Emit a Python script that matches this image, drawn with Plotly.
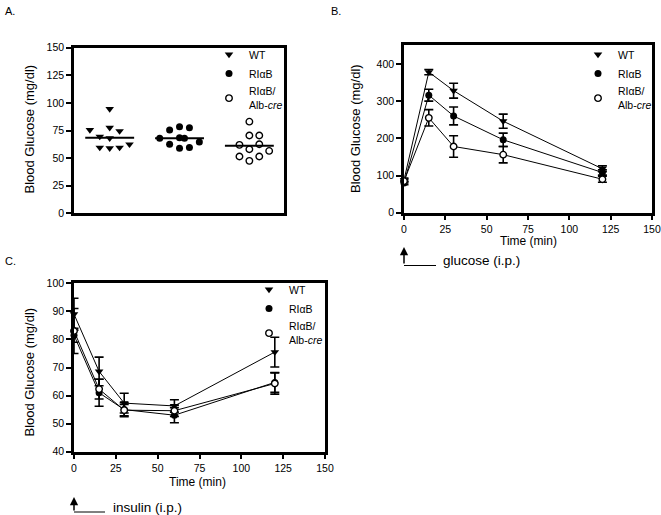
import plotly.graph_objects as go

W, H = 661, 515
FONT = "Liberation Sans, Arial, Helvetica, sans-serif"

def fx(p):
    return p / W

def fy(p):
    return 1 - p / H

# ---------------- Panel A data (fasting blood glucose, dot plot) ----------------
group_pos = [1, 2, 3]
a_wt_jitter = [-2, 0, 0, 1, -1, 0, 2, -1, 0, 1]
a_wt = [75.5, 94.5, 77.5, 74.5, 69.5, 68, 62.5, 59.5, 59, 59.5]
a_rb_jitter = [-2, -1, 0, 1, 0, 0.5, 2, -1, 0, 1]
a_rb = [68, 75.5, 78.5, 77.5, 68.5, 68, 64.5, 62.5, 59, 59.5]
a_cre_jitter = [0, 0, 1, -1, 1, 0, -1, 1, 2, 0]
a_cre = [83, 70.5, 70.5, 62, 62.5, 58, 51.5, 51.5, 56.5, 47.5]
a_means = [68.5, 68, 61.2]
a_yticks = [0, 25, 50, 75, 100, 125, 150]

# ---------------- Panel B data (glucose tolerance test) ----------------
b_time = [0, 15, 30, 60, 120]
b_wt = [88, 378, 328, 246, 118]
b_wt_err = [5, 7, 20, 19, 8]
b_rb = [80, 316, 260, 196, 108]
b_rb_err = [5, 16, 24, 18, 7]
b_cre = [85, 255, 178, 156, 90]
b_cre_err = [5, 22, 29, 22, 8]
b_yticks = [0, 100, 200, 300, 400]

# ---------------- Panel C data (insulin tolerance test) ----------------
c_time = [0, 15, 30, 60, 120]
c_wt = [89, 68.6, 57.3, 56.3, 75.5]
c_wt_err = [5.7, 5.1, 3.5, 2.2, 5.3]
c_rb = [81.5, 61, 55, 53, 64.7]
c_rb_err = [2.5, 4.8, 2.5, 2.7, 3.5]
c_cre = [83, 62.3, 54.8, 54.6, 64.3]
c_cre_err = [8, 3.5, 2, 2, 3.8]

series_names = ["WT", "RIαB", "RIαB/<br>Alb-<i>cre</i>"]

JIT = 10 / 70.5  # jitter step in group units
MSIZE = 7
styles = [
    dict(symbol="triangle-down", size=MSIZE + 0.5, color="black", line=dict(width=0)),
    dict(symbol="circle", size=MSIZE, color="black", line=dict(width=0)),
    dict(symbol="circle", size=MSIZE - 0.5, color="white", line=dict(width=1.4, color="black")),
]

fig = go.Figure()

# ----- Panel A -----
a_sets = [(a_wt_jitter, a_wt), (a_rb_jitter, a_rb), (a_cre_jitter, a_cre)]
for i, (jit, vals) in enumerate(a_sets):
    fig.add_trace(go.Scatter(
        x=[group_pos[i] + j * JIT for j in jit], y=vals, mode="markers",
        marker=styles[i], xaxis="x", yaxis="y", showlegend=False,
        cliponaxis=False, hoverinfo="skip"))
mx, my = [], []
for g, m in zip(group_pos, a_means):
    mx += [g - 0.35, g + 0.35, None]
    my += [m, m, None]
fig.add_trace(go.Scatter(x=mx, y=my, mode="lines", line=dict(color="black", width=2),
                         xaxis="x", yaxis="y", showlegend=False, hoverinfo="skip"))

# ----- Panels B and C -----
def add_curves(t, sets, xa, ya):
    for i, (vals, err) in enumerate(sets):
        fig.add_trace(go.Scatter(
            x=t, y=vals, mode="lines+markers", marker=styles[i],
            line=dict(color="black", width=1),
            error_y=dict(type="data", array=err, visible=True, color="black",
                         thickness=1.6, width=4.5),
            xaxis=xa, yaxis=ya, showlegend=False, cliponaxis=False,
            hoverinfo="skip"))

add_curves(b_time, [(b_wt, b_wt_err), (b_rb, b_rb_err), (b_cre, b_cre_err)], "x2", "y2")
add_curves(c_time, [(c_wt, c_wt_err), (c_rb, c_rb_err), (c_cre, c_cre_err)], "x3", "y3")

# ----- Legend entries (marker-only) -----
for lg, xa, ya in [("legend", "x", "y"), ("legend2", "x2", "y2"), ("legend3", "x3", "y3")]:
    for i, name in enumerate(series_names):
        fig.add_trace(go.Scatter(x=[None], y=[None], mode="markers", marker=styles[i],
                                 name=name, legend=lg, xaxis=xa, yaxis=ya,
                                 showlegend=True))

axis_common = dict(showline=True, linewidth=2.5, linecolor="black", mirror=True,
                   showgrid=False, zeroline=False, ticks="outside", ticklen=5,
                   tickwidth=2, tickcolor="black",
                   tickfont=dict(family=FONT, size=10.5, color="black"))

legend_common = dict(bgcolor="rgba(0,0,0,0)", borderwidth=0, itemwidth=30,
                     font=dict(family=FONT, size=10.5, color="black"),
                     xanchor="left", yanchor="top", tracegroupgap=0,
                     itemclick=False, itemdoubleclick=False)

fig.update_layout(
    width=W, height=H, margin=dict(l=0, r=0, t=0, b=0, autoexpand=False),
    paper_bgcolor="white", plot_bgcolor="white",
    font=dict(family=FONT, color="black"),
    xaxis=dict(domain=[fx(74), fx(284)], range=[0.489, 3.496], anchor="y",
               **{**axis_common, "ticks": "", "showticklabels": False}),
    yaxis=dict(domain=[fy(213.3), fy(47.7)], range=[0, 150], tickvals=a_yticks,
               anchor="x", **axis_common),
    xaxis2=dict(domain=[fx(404), fx(652)], range=[0, 150], dtick=25, anchor="y2",
                **axis_common),
    yaxis2=dict(domain=[fy(212.7), fy(45.3)], range=[0, 450], tickvals=b_yticks,
                anchor="x2", **axis_common),
    xaxis3=dict(domain=[fx(74), fx(325)], range=[0, 150], dtick=25, anchor="y3",
                **axis_common),
    yaxis3=dict(domain=[fy(451.7), fy(283.3)], range=[40, 100], dtick=10,
                anchor="x3", **axis_common),
    legend=dict(x=fx(209), y=fy(40), **legend_common),
    legend2=dict(x=fx(578), y=fy(40), **legend_common),
    legend3=dict(x=fx(249), y=fy(275), **legend_common),
)

ann_font = dict(family=FONT, size=13.5, color="black")
ytitle_font = dict(family=FONT, size=13, color="black")
xtitle_font = dict(family=FONT, size=12, color="black")
label_font = dict(family=FONT, size=11, color="black")
annotations = [
    dict(text="A.", x=fx(3), y=fy(11), xanchor="left", yanchor="middle", font=label_font),
    dict(text="B.", x=fx(329), y=fy(11), xanchor="left", yanchor="middle", font=label_font),
    dict(text="C.", x=fx(3), y=fy(261), xanchor="left", yanchor="middle", font=label_font),
    # axis titles
    dict(text="Blood Glucose (mg/dl)", x=fx(28.5), y=fy(129), textangle=-90,
         xanchor="center", yanchor="middle", font=ytitle_font),
    dict(text="Blood Glucose (mg/dl)", x=fx(355), y=fy(129), textangle=-90,
         xanchor="center", yanchor="middle", font=ytitle_font),
    dict(text="Blood Glucose (mg/dl)", x=fx(28.5), y=fy(372), textangle=-90,
         xanchor="center", yanchor="middle", font=ytitle_font),
    dict(text="Time (min)", x=fx(528), y=fy(241.5), xanchor="center", yanchor="middle",
         font=xtitle_font),
    dict(text="Time (min)", x=fx(197), y=fy(482), xanchor="center", yanchor="middle",
         font=xtitle_font),
    # injection labels
    dict(text="glucose (i.p.)", x=fx(441), y=fy(260), xanchor="left", yanchor="middle",
         font=ann_font),
    dict(text="insulin (i.p.)", x=fx(111), y=fy(507), xanchor="left", yanchor="middle",
         font=ann_font),
    # injection arrows
    dict(text="", x=fx(404), y=fy(247), ax=0, ay=18, showarrow=True, arrowhead=2,
         arrowsize=1.1, arrowwidth=1.5, arrowcolor="black"),
    dict(text="", x=fx(74), y=fy(497), ax=0, ay=15, showarrow=True, arrowhead=2,
         arrowsize=1.1, arrowwidth=1.5, arrowcolor="black"),
]
for a in annotations:
    a.setdefault("xref", "paper")
    a.setdefault("yref", "paper")
    a.setdefault("showarrow", False)
fig.update_layout(annotations=annotations)

fig.update_layout(shapes=[
    dict(type="line", xref="paper", yref="paper", x0=fx(404), x1=fx(436),
         y0=fy(265.5), y1=fy(265.5), line=dict(color="black", width=1)),
    dict(type="line", xref="paper", yref="paper", x0=fx(74), x1=fx(105),
         y0=fy(512), y1=fy(512), line=dict(color="black", width=1)),
])

# remove the page's default body margin so the figure fills the window exactly
fig.write_html("out.html",
               config={"displayModeBar": False},
               post_script="document.body.style.margin='0';document.body.style.overflow='hidden';")
